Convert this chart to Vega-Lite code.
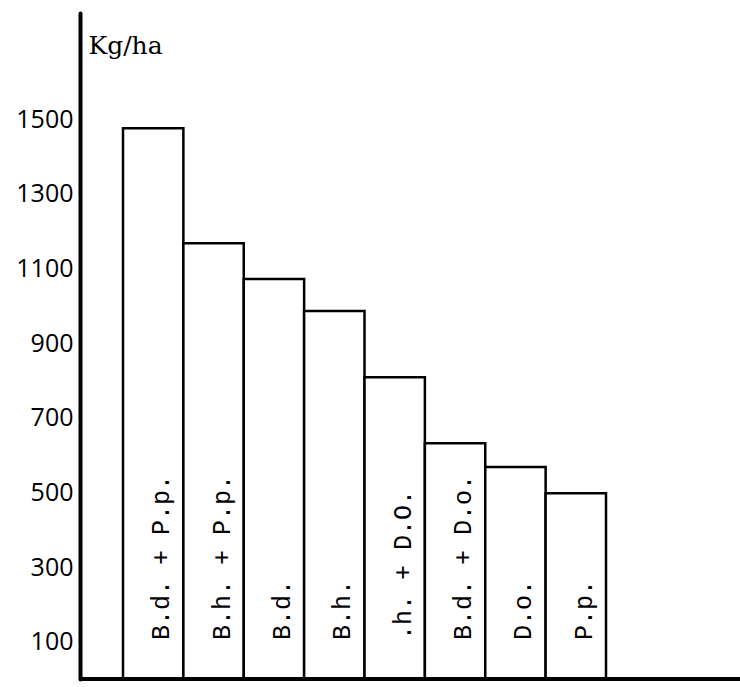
{
  "$schema": "https://vega.github.io/schema/vega-lite/v6.json",
  "autosize": "none",
  "width": 660,
  "height": 666,
  "padding": {"left": 80, "top": 13, "right": 0, "bottom": 8},
  "background": "white",
  "config": {"view": {"stroke": null}},
  "data": {
    "values": [
      {"crop": "B.d. + P.p.", "yield": 1476},
      {"crop": "B.h. + P.p.", "yield": 1168},
      {"crop": "B.d.", "yield": 1072},
      {"crop": "B.h.", "yield": 986},
      {"crop": ".h. + D.O.", "yield": 809},
      {"crop": "B.d. + D.o.", "yield": 632},
      {"crop": "D.o.", "yield": 568},
      {"crop": "P.p.", "yield": 498}
    ]
  },
  "layer": [
    {
      "mark": {"type": "bar", "fill": "white", "stroke": "black", "strokeWidth": 2.5},
      "encoding": {
        "x": {
          "field": "crop",
          "type": "nominal",
          "sort": null,
          "scale": {"paddingInner": 0, "paddingOuter": 0, "range": [43, 526]},
          "axis": null
        },
        "y": {
          "field": "yield",
          "type": "quantitative",
          "scale": {"domain": [0, 1785], "nice": false},
          "axis": {
            "values": [100, 300, 500, 700, 900, 1100, 1300, 1500],
            "format": "d",
            "ticks": false,
            "grid": false,
            "domainColor": "black",
            "domainWidth": 4,
            "domainCap": "round",
            "labelFont": "Open Sans",
            "labelFontSize": 25,
            "labelColor": "black",
            "labelPadding": 7,
            "title": "Kg/ha",
            "titleFont": "DejaVu Serif",
            "titleFontSize": 25,
            "titleFontWeight": "normal",
            "titleColor": "black",
            "titleAngle": 0,
            "titleAlign": "left",
            "titleBaseline": "alphabetic",
            "titleX": 8,
            "titleY": 40
          }
        }
      }
    },
    {
      "mark": {"type": "text", "angle": 270, "align": "left", "baseline": "middle", "dx": 39, "dy": 8, "font": "Liberation Mono", "fontSize": 25, "color": "black"},
      "encoding": {
        "x": {"field": "crop", "type": "nominal", "sort": null, "band": 0.5},
        "y": {"datum": 0, "type": "quantitative"},
        "text": {"field": "crop"}
      }
    },
    {
      "mark": {"type": "rule", "color": "black", "strokeWidth": 4},
      "encoding": {
        "y": {"datum": 0, "type": "quantitative"}
      }
    }
  ]
}
